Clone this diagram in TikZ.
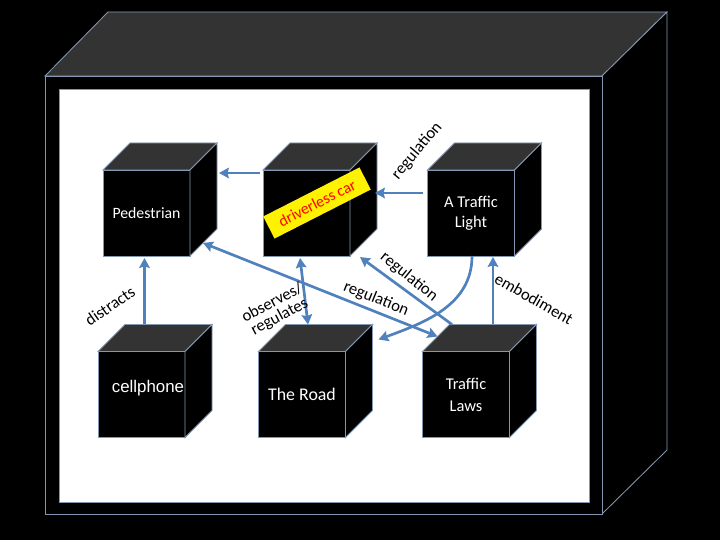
\documentclass[tikz,border=0pt]{standalone}
\usepackage{fontspec}
\setmainfont{Carlito}
\newfontfamily\arialfont{Liberation Sans}
\usetikzlibrary{calc}
\usetikzlibrary{arrows.meta}
\definecolor{bordo}{HTML}{8497B0}
\definecolor{tetto}{HTML}{333333}
\definecolor{freccia}{HTML}{4F81BD}
\tikzstyle{cube} = [rectangle, minimum width=2.175cm, minimum height=2.15cm, outer sep=0pt, fill=black, draw=bordo, line width=0.6pt, text=white, align=center]
\tikzstyle{face} = [draw=bordo, line width=0.6pt]
\tikzstyle{arrow} = [draw=freccia, line width=1.9pt, -{Stealth[length=7pt,width=7.5pt,inset=1pt]}]
\tikzstyle{biarrow} = [arrow, {Stealth[length=7pt,width=7.5pt,inset=1pt]}-{Stealth[length=7pt,width=7.5pt,inset=1pt]}]
\tikzstyle{reltext} = [font=\fontsize{11.8}{11}\selectfont, inner sep=0pt]

\begin{document}
\begin{tikzpicture}[x=0.025cm,y=0.025cm]
% fondo e scatola grande
\fill[black] (0,0) rectangle (720,540);
\filldraw[face, fill=tetto] (45,464) -- (108,528) -- (667,528) -- (602,464) -- cycle;
\filldraw[face, fill=black] (602,464) -- (667,528) -- (667,90) -- (602,26) -- cycle;
\filldraw[face, fill=black] (45,26) rectangle (602,464);
\filldraw[face, fill=white] (59,38) rectangle (589,451);

% cubi
\node (ped) at (146.5,327) [cube, font=\fontsize{11.2}{13}\selectfont] {Pedestrian};
\node (car) at (306.5,327) [cube] {};
\node (light) at (471,327) [cube, font=\fontsize{11.7}{14}\selectfont] {A Traffic\\Light};
\node (phone) at (141.5,145.5) [cube] {};
\node (road) at (302,145.5) [cube, font=\fontsize{12.7}{15}\selectfont] {The Road};
\node (laws) at (466,145.5) [cube, font=\fontsize{11.7}{15.5}\selectfont] {Traffic\\Laws};
\node (phonetext) at (148,152) [text=white, font=\arialfont\fontsize{12}{14}\selectfont] {cellphone};
\foreach \n in {ped,car,light,phone,road,laws} {
  \filldraw[face, fill=tetto] (\n.north west) -- ++(27,27) -- ($(\n.north east)+(27,27)$) -- (\n.north east) -- cycle;
  \filldraw[face, fill=black] (\n.north east) -- ++(27,27) -- ($(\n.south east)+(27,27)$) -- (\n.south east) -- cycle;
}

% etichetta gialla
\node (dc) at (317,337) [rotate=27, fill=yellow, text=red, minimum width=2.7cm, minimum height=0.62cm, font=\fontsize{11.2}{12}\selectfont] {driverless car};

% frecce
\draw[arrow] ($(car.north west)+(-3,-3)$) -- ($(ped.north east)+(29,-3)$);
\draw[arrow] ($(light.west)+(-4,20)$) -- ($(car.east)+(25,20)$);
\draw[arrow] ($(phone.north)+(3,27)$) -- ($(ped.south)+(-2,-2)$);
\draw[biarrow] ($(ped.south east)+(13,13)$) -- ($(laws.north west)+(15,15)$);
\draw[biarrow] ($(car.south)+(-6.5,-2)$) -- ($(road.north)+(6,27)$);
\draw[arrow] ($(laws.north)+(-14,27)$) -- ($(car.south east)+(10,-1)$);
\draw[arrow] ($(light.south)+(1,0)$) to [out=-90,in=20] ($(road.north east)+(33,12)$);
\draw[arrow] ($(laws.north)+(27,27)$) -- ($(light.south)+(22,-1)$);

% testi
\node (r1) at (417,389) [reltext, rotate=50] {regulation};
\node (dis) at (110,234) [reltext, rotate=35] {distracts};
\node (obs) at (276,230) [reltext, rotate=28, align=center] {observes/\\regulates};
\node (r2) at (376,241) [reltext, rotate=-22] {regulation};
\node (r3) at (409,263) [reltext, rotate=-39] {regulation};
\node (emb) at (534,241) [reltext, rotate=-30] {embodiment};
\end{tikzpicture}
\end{document}
